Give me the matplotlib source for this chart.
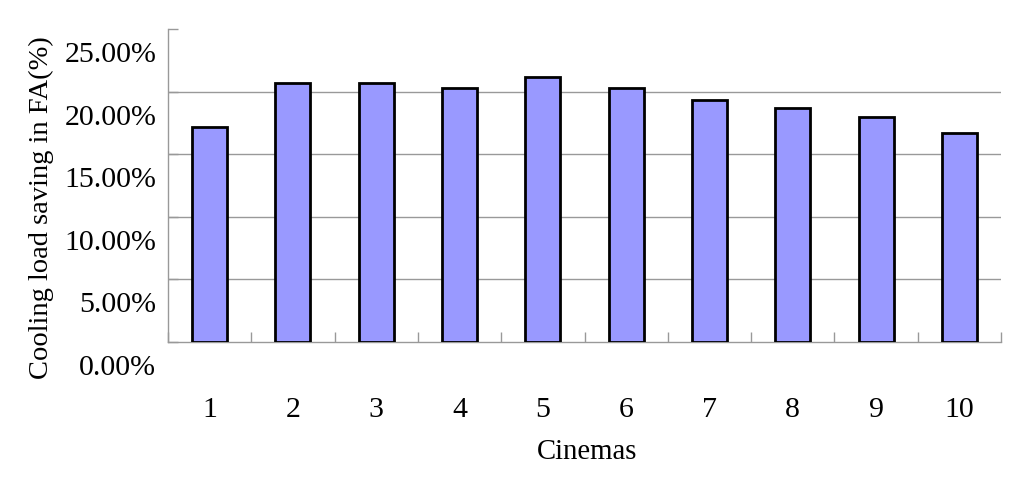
import matplotlib
matplotlib.use("Agg")
import matplotlib.pyplot as plt
import matplotlib.transforms as mtransforms
from matplotlib.ticker import FixedLocator

categories = ["1", "2", "3", "4", "5", "6", "7", "8", "9", "10"]
savings = [17.15, 20.66, 20.66, 20.32, 21.2, 20.32, 19.33, 18.67, 18.0, 16.67]
ytick_vals = [0, 5, 10, 15, 20, 25]
ytick_labels = ["0.00%", "5.00%", "10.00%", "15.00%", "20.00%", "25.00%"]

plt.rcParams['font.family'] = ['Liberation Serif', 'DejaVu Serif']

W, H = 1024, 479
fig = plt.figure(figsize=(W / 100, H / 100), dpi=100)
ax = fig.add_axes([168 / W, 1 - 341.7 / H, (1001 - 168) / W, (341.7 - 29) / H])

x = list(range(1, len(categories) + 1))
ax.bar(x, savings, width=0.42, color="#9999FF", edgecolor="black", linewidth=2.0, zorder=3)

ax.set_xlim(0.5, len(categories) + 0.5)
ax.set_ylim(0, 25)

ax.set_yticks(ytick_vals)
ax.set_yticklabels(ytick_labels, fontsize=21.5)
ax.set_xticks(x)
ax.set_xticklabels(categories, fontsize=21.5)
ax.xaxis.set_minor_locator(FixedLocator([i + 0.5 for i in range(0, len(categories) + 1)]))

ax.tick_params(axis='x', which='major', length=0, pad=40)
ax.tick_params(axis='x', which='minor', direction='in', length=7, color='#999999', width=1)
ax.tick_params(axis='y', which='major', direction='in', length=7, color='#999999', width=1, pad=8.5)

# offset y tick labels downward like the reference
offset = mtransforms.ScaledTranslation(0, -23 / 100, fig.dpi_scale_trans)
for lab in ax.get_yticklabels():
    lab.set_transform(lab.get_transform() + offset)

for yv in ytick_vals[1:-1]:
    ax.axhline(yv, color='#999999', linewidth=1, zorder=1)

for s in ['top', 'right']:
    ax.spines[s].set_visible(False)
for s in ['left', 'bottom']:
    ax.spines[s].set_color('#999999')
    ax.spines[s].set_linewidth(1)

fig.text(41 / W, 1 - 208 / H, "Cooling load saving in FA(%)", rotation=90,
         ha='center', va='center', fontsize=20.5)
fig.text(587 / W, 1 - 452 / H, "Cinemas", ha='center', va='center', fontsize=20.7)

fig.savefig("out.png", dpi=100)
